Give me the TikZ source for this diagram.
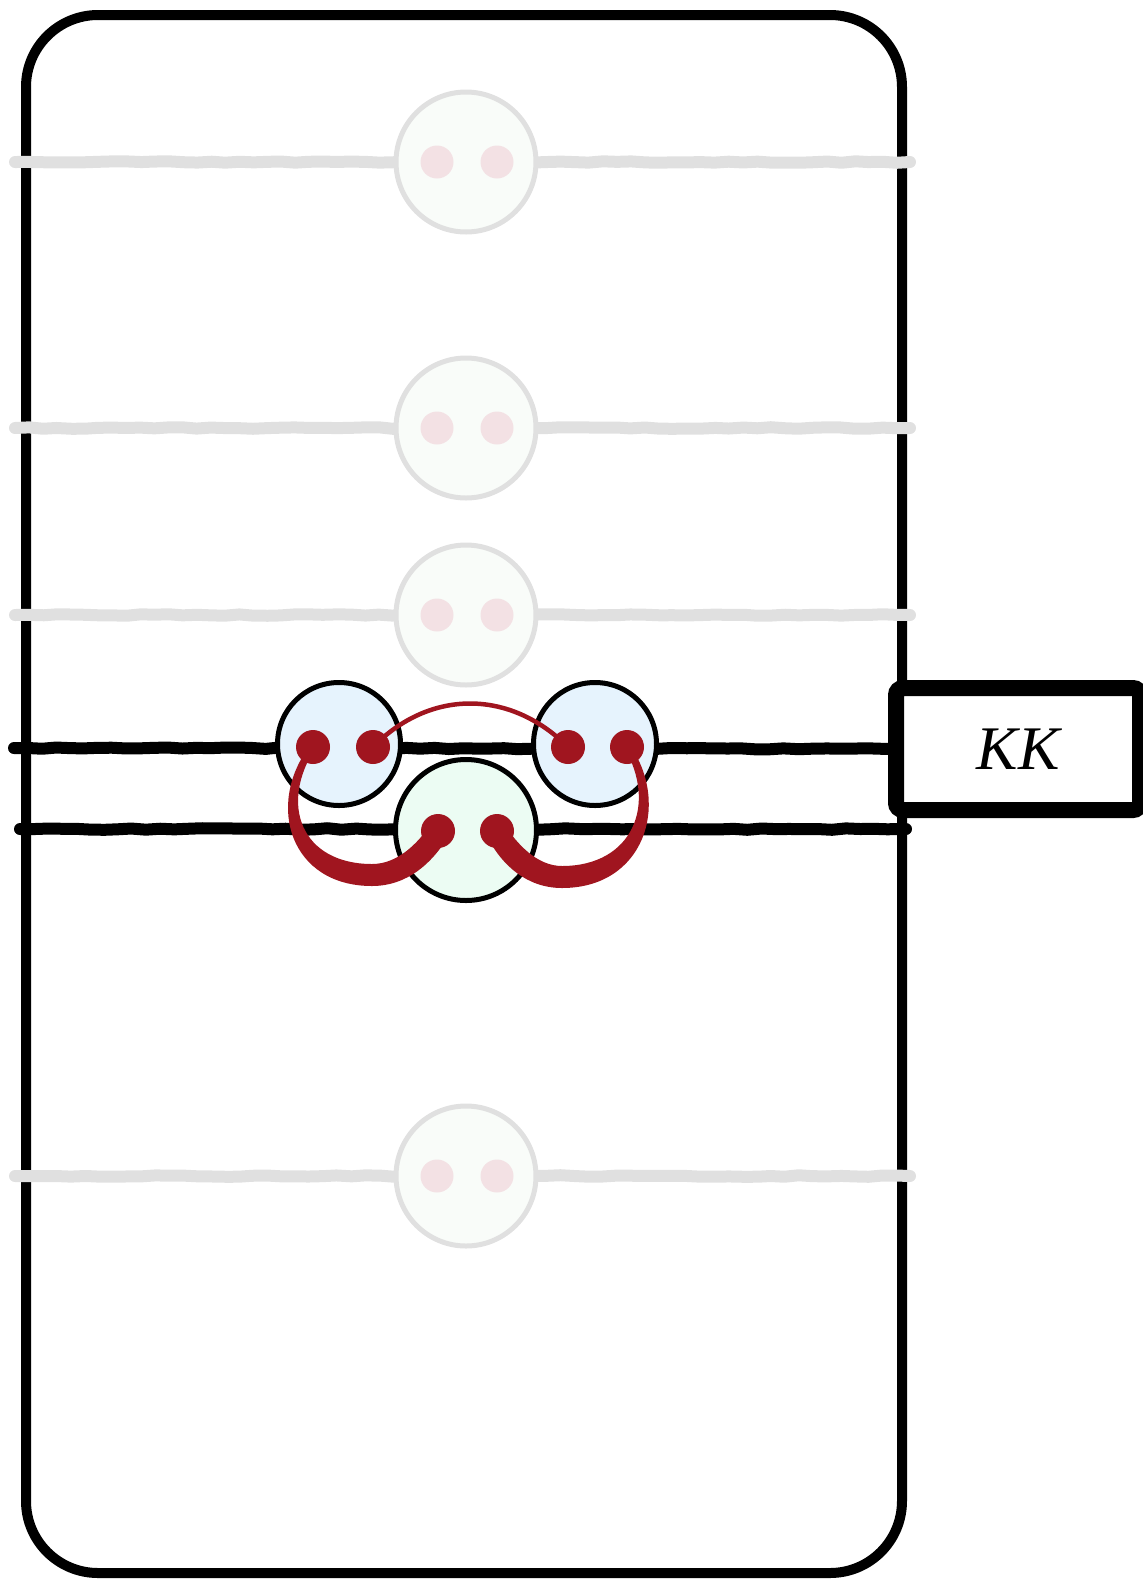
\documentclass[tikz,border=0pt]{standalone}
\usepackage{fontspec}
\setmainfont{Liberation Serif}
\usetikzlibrary{decorations.pathmorphing}
\definecolor{ink}{HTML}{000000}
\definecolor{wirered}{HTML}{A0151F}
\definecolor{fadegray}{HTML}{E0E0E0}
\definecolor{fadefill}{HTML}{F9FCF9}
\definecolor{fadedot}{HTML}{F3E1E4}
\definecolor{bluefill}{HTML}{E6F3FD}
\definecolor{greenfill}{HTML}{ECFCF3}
\tikzset{
  wobble/.style={decorate, decoration={random steps, segment length=14pt, amplitude=0.8pt}, line join=round},
  frame/.style={draw=ink, line width=10pt, rounded corners=72pt},
  fadewire/.style={draw=fadegray, line width=12pt, line cap=round, wobble},
  fadering/.style={circle, draw=fadegray, fill=fadefill, line width=5pt, minimum size=140pt, inner sep=0pt},
  fadedot/.style={circle, fill=fadedot, minimum size=33pt, inner sep=0pt},
  wire/.style={draw=ink, line width=12pt, line cap=round, wobble},
  bluering/.style={circle, draw=ink, fill=bluefill, line width=5pt, minimum size=123pt, inner sep=0pt},
  greenring/.style={circle, draw=ink, fill=greenfill, line width=5pt, minimum size=141pt, inner sep=0pt},
  reddot/.style={circle, fill=wirered, minimum size=34pt, inner sep=0pt},
  thinlink/.style={draw=wirered, line width=4.5pt},
  taper/.style={fill=wirered, draw=none},
  labelbox/.style={draw=ink, fill=white, line width=16pt, rounded corners=7pt,
    minimum width=244pt, minimum height=122pt, inner sep=0pt,
    font=\fontsize{62}{62}\selectfont\itshape}
}
\begin{document}
\begin{tikzpicture}[x=1pt, y=-1pt]
\pgfmathsetseed{11}
\useasboundingbox (0,0) rectangle (1143,1580);

% outer frame
\draw[frame] (26,15) rectangle (902,1573);

% faded rows
\foreach \r/\yy in {1/162, 2/428, 3/615, 4/1176} {
  \coordinate (fw\r) at (15,\yy);
  \coordinate (fe\r) at (910,\yy);
  \draw[fadewire] (fw\r) -- (fe\r);
  \node[fadering] (fc\r) at (466,\yy) {};
  \node[fadedot] (fa\r) at (437,\yy) {};
  \node[fadedot] (fb\r) at (497,\yy) {};
}

% label box on the right
\node[labelbox] (kk) at (1018,749) {KK};

% active wires
\coordinate (w1) at (14,748);
\coordinate (w2w) at (20,829);
\coordinate (w2e) at (906,829);
\draw[wire] (w1) -- (kk.west);
\draw[wire] (w2w) -- (w2e);

% active gates
\node[bluering] (gl) at (339,744) {};
\node[bluering] (gr) at (595,744) {};
\node[greenring] (gc) at (466,830) {};

% red dots
\node[reddot] (gl1) at (313,747) {};
\node[reddot] (gl2) at (373,747) {};
\node[reddot] (gr1) at (568,747) {};
\node[reddot] (gr2) at (627,747) {};
\node[reddot] (gc1) at (438,831) {};
\node[reddot] (gc2) at (497,831) {};

% thin link over the top
\draw[thinlink] (gl2.center) .. controls (430,689) and (510,689) .. (gr1.center);

% tapered links to the lower gate
\path[taper] (309,747) .. controls (266,805) and (290,886) .. (372,886)
  .. controls (408,886) and (432,862) .. (446,840)
  -- (431,824) .. controls (418,843) and (398,864) .. (372,864)
  .. controls (302,864) and (278,805) .. (316,747) -- cycle;
\path[taper] (631,747) .. controls (670,805) and (644,888) .. (562,888)
  .. controls (526,888) and (502,864) .. (489,840)
  -- (504,824) .. controls (517,844) and (537,866) .. (562,866)
  .. controls (632,866) and (658,805) .. (624,747) -- cycle;
\end{tikzpicture}
\end{document}
